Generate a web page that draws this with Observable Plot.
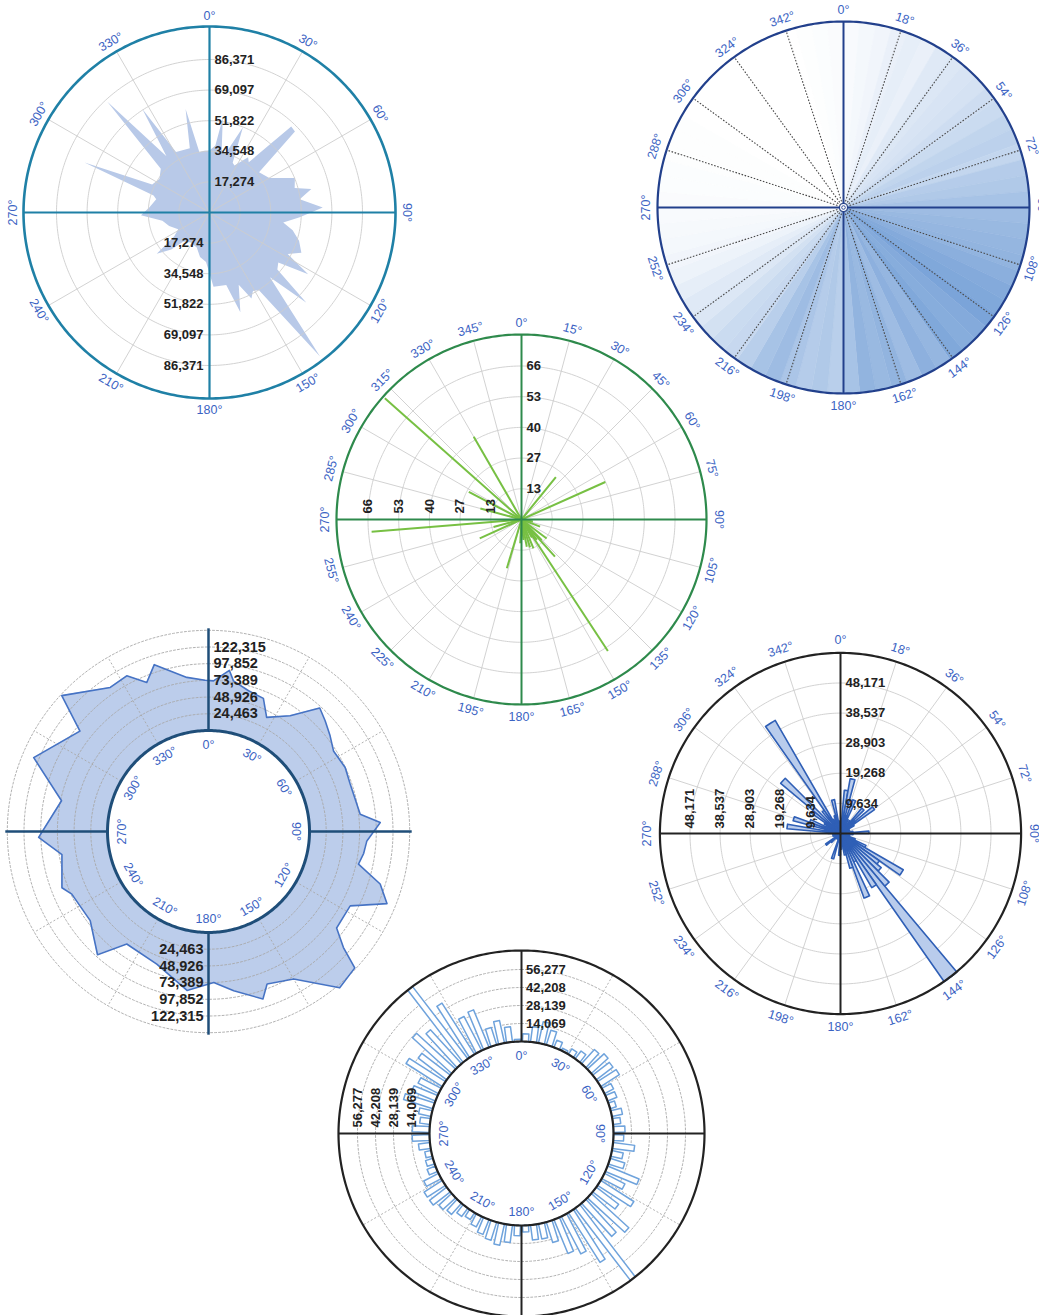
<!DOCTYPE html>
<html>
<head>
<meta charset="utf-8">
<script src="https://cdn.jsdelivr.net/npm/d3@7"></script>
<script src="https://cdn.jsdelivr.net/npm/@observablehq/plot@0.6"></script>
<style>
  body { margin: 0; background: #fff; }
  #page { position: relative; width: 1039px; height: 1315px; overflow: hidden; background: #fff; }
  #page svg { position: absolute; }
</style>
</head>
<body>
<div id="page"></div>
<script>
// ---------- data ----------

// A: filled radial profile (top left) — vertex angles (deg) and values
const profileAngles = [0, 5, 8, 11, 15.5, 21.4, 25, 28, 35, 38, 43.5, 46.5, 51, 60, 68, 74, 77, 81.6, 87.5, 93, 97.8, 102, 107.5, 113.6, 118, 122, 126, 130, 133, 137, 142.5, 147.5, 151, 154, 158, 162.8, 167, 176.9, 184, 192, 200, 212, 222, 226, 232, 236, 242, 251.6, 260, 267.8, 275, 284, 287, 291.8, 296, 303.7, 312, 317.3, 322.6, 327, 331, 343, 347, 350.5, 355];
const profileValues = [35000, 38000, 54000, 36000, 35000, 51700, 31000, 30000, 38000, 36000, 67000, 66500, 36000, 39000, 52000, 50000, 59000, 51500, 64000, 51000, 42000, 48000, 53000, 56600, 50000, 65700, 48000, 50000, 74800, 50000, 102500, 52000, 50600, 54000, 44000, 58900, 42000, 42000, 28000, 25700, 21000, 20000, 22000, 30000, 37800, 24000, 20000, 24000, 27000, 38700, 34000, 31000, 33000, 76000, 36000, 34000, 37000, 85000, 40000, 69600, 39000, 38000, 60000, 34500, 35000];
const profileStep = 17274.15;

// B: shaded direction sectors (top right), 5° bins from 0°
const sectorShade = [
  0.04, 0.06, 0.08, 0.12, 0.14, 0.12, 0.18, 0.20, 0.22, 0.24, 0.28, 0.30,
  0.35, 0.38, 0.34, 0.42, 0.45, 0.50, 0.55, 0.58, 0.60, 0.62, 0.66, 0.70,
  0.72, 0.75, 0.70, 0.68, 0.72, 0.60, 0.65, 0.55, 0.62, 0.58, 0.62, 0.50,
  0.40, 0.45, 0.42, 0.48, 0.55, 0.50, 0.40, 0.32, 0.30, 0.25, 0.20, 0.18,
  0.14, 0.10, 0.08, 0.06, 0.05, 0.04, 0.03, 0.02, 0.02, 0.01, 0.01, 0.01,
  0.0, 0.0, 0.0, 0.0, 0.0, 0.0, 0.0, 0.0, 0.0, 0.01, 0.02, 0.03
];

// C: radial line segments (middle) — direction (deg) and length
const rayAngles = [311.6, 330, 297.6, 285, 265.3, 245.7, 255, 196.7, 183, 174.5, 169, 163, 157.5, 150, 146.7, 143, 138, 135.5, 127, 111, 100, 39, 65.9];
const rayValues = [79, 41.3, 25.7, 18.4, 65, 19.8, 12.5, 22, 10.3, 8.9, 12, 12.6, 13.5, 9, 68, 11, 21.6, 12.5, 13.6, 8.6, 5, 23.6, 39.7];
const rayStep = 13.27;

// D: ring profile with a hollow centre (bottom left) — vertex angles and values
const ringAngles = [1.9, 7.4, 9.4, 15.9, 22.4, 27, 35.2, 42, 46.5, 51.8, 57.2, 64.9, 71.5, 83.5, 87, 93.4, 98, 102.3, 107, 112, 117.7, 127, 130.7, 133, 140, 150, 159, 162, 171, 178, 187.7, 201.3, 216, 222, 233, 245.4, 249, 261, 268, 281.8, 292.9, 308, 312.8, 325.7, 332.3, 337.5, 342, 352, 358.7];
const ringValues = [72800, 90000, 75700, 66400, 63000, 39600, 59500, 95600, 87600, 78700, 69900, 73100, 70900, 75700, 104000, 84400, 81600, 76900, 115000, 134000, 86400, 87000, 112800, 145000, 151000, 101600, 91400, 110000, 88300, 73300, 87000, 60600, 55800, 95000, 69000, 72300, 82000, 69400, 101000, 72000, 130000, 91000, 145000, 107500, 109600, 88300, 109000, 80000, 73700];
const ringStep = 24463;

// E: rose of filled petals (middle right), 5° bins from 0°
const petalValues = [
  4000, 13900, 17800, 6000, 11500, 5000, 3000, 5000, 10600, 6000, 13300, 5000,
  3000, 2500, 3000, 2500, 4000, 9100, 4000, 2000, 3000, 2500, 5000, 9000,
  23200, 15200, 17000, 22000, 57900, 20000, 10000, 22000, 11500, 7000, 4000, 5000,
  7000, 2000, 2500, 8400, 2000, 1500, 2000, 1500, 2000, 4000, 5800, 2000,
  1500, 2000, 2500, 1500, 2000, 2500, 4000, 17200, 5000, 15700, 10500, 5000,
  6000, 11400, 25000, 4000, 9100, 41800, 5000, 4000, 6000, 11000, 4000, 3000
];
const petalStep = 9634.2;

// F: outlined bars around a hollow centre (bottom), 5° bins from 0°
const barValues = [
  6000, 12000, 17000, 12000, 6000, 2000, 5000, 7600, 15000, 17700, 16400, 17300,
  8000, 7800, 5000, 8400, 6000, 9000, 8000, 17000, 9000, 12000, 26600, 18000,
  30700, 22000, 39700, 35000, 71000, 46000, 33000, 28600, 16700, 12000, 11800, 5000,
  8000, 13800, 17000, 14800, 12500, 9200, 6300, 8000, 11700, 13500, 16900, 16900,
  13000, 7000, 6000, 5000, 9000, 13500, 13400, 8000, 10000, 24000, 20000, 18000,
  33600, 28000, 41500, 36000, 71000, 47500, 30000, 31700, 14200, 18000, 11900, 1800
];
const barStep = 14069.3;

// ---------- helpers ----------
const page = document.getElementById("page");
const S = 440, H = S / 2;
const FONT = "Liberation Sans, Arial, Helvetica, sans-serif";
const DEG_COLOR = "#3b63c3";
const toRad = a => a * Math.PI / 180;
const P = (r, a) => ({x: r * Math.sin(toRad(a)), y: r * Math.cos(toRad(a))});
const upright = a => (a > 90 && a < 270) ? a - 180 : a;
const fmt = d3.format(",");
const axes4 = [0, 90, 180, 270];
const gridAngles = step => d3.range(0, 360, step).filter(a => a % 90 !== 0);

function circle(r, id, n = 360) {
  return d3.range(n + 1).map(i => ({...P(r, i * 360 / n), id}));
}
function rings(radii, stroke, strokeWidth, dash) {
  return Plot.line(radii.flatMap((r, i) => circle(r, i)), {x: "x", y: "y", z: "id", stroke, strokeWidth, strokeDasharray: dash});
}
function spokes(angles, r0, r1, stroke, strokeWidth, dash) {
  const segs = angles.map(a => { const p = P(r0, a), q = P(r1, a); return {x1: p.x, y1: p.y, x2: q.x, y2: q.y}; });
  return Plot.link(segs, {x1: "x1", y1: "y1", x2: "x2", y2: "y2", stroke, strokeWidth, strokeDasharray: dash});
}
function degreeLabels(angles, r) {
  const labels = angles.map(a => ({...P(r, a), text: a + "°", rot: upright(a)}));
  return Plot.text(labels, {x: "x", y: "y", text: "text", rotate: "rot", fill: DEG_COLOR, fontSize: 12.5, fontFamily: FONT});
}
const bold = size => ({fill: "#222", fontSize: size, fontWeight: "bold", fontFamily: FONT});
function topLabels(ticks, r, dx, size = 13) {
  return Plot.text(ticks, {x: () => dx, y: d => r(d), text: d => fmt(Math.round(d)), textAnchor: "start", ...bold(size)});
}
function bottomLabels(ticks, r, dx, size = 13) {
  return Plot.text(ticks, {x: () => -dx, y: d => -r(d), text: d => fmt(Math.round(d)), textAnchor: "end", ...bold(size)});
}
function leftLabels(ticks, r, dy, size = 13) {
  return Plot.text(ticks, {x: d => -r(d), y: () => dy, text: d => fmt(Math.round(d)), rotate: -90, textAnchor: "start", ...bold(size)});
}
function chart(cx, cy, marks, extra = {}) {
  const svg = Plot.plot({
    width: S, height: S, margin: 0,
    x: {domain: [-H, H], axis: null},
    y: {domain: [-H, H], axis: null},
    style: {background: "none", overflow: "visible"},
    marks,
    ...extra
  });
  svg.style.left = (cx - H) + "px";
  svg.style.top = (cy - H) + "px";
  page.appendChild(svg);
}
const ticksOf = (step, n) => d3.range(1, n + 1).map(i => i * step);

// ---------- A: filled radial profile ----------
{
  const r = d3.scaleLinear().domain([0, profileStep]).range([0, 30.6]);
  const R = 186, teal = "#1f80a6";
  const ticks = ticksOf(profileStep, 5);
  const poly = profileAngles.map((a, i) => P(r(profileValues[i]), a));
  chart(209.3, 212.3, [
    Plot.line(poly, {x: "x", y: "y", fill: "#b8c9e8", stroke: "none", curve: "linear-closed"}),
    rings(ticks.map(r), "#cdcdcd", 0.9),
    spokes(gridAngles(30), 0, R, "#cdcdcd", 0.9),
    spokes(axes4, 0, R, teal, 2.2),
    rings([R], teal, 2.6),
    degreeLabels(d3.range(0, 360, 30), R + 11),
    topLabels(ticks, r, 5),
    bottomLabels(ticks, r, 6)
  ]);
}

// ---------- B: shaded direction sectors ----------
{
  const R = 186, navy = "#22408c";
  const wedges = sectorShade.flatMap((t, i) => [
    {x: 0, y: 0, id: i, t},
    ...d3.range(0, 6).map(k => ({...P(R, i * 5 + k), id: i, t}))
  ]);
  chart(843.3, 207.3, [
    Plot.line(wedges, {x: "x", y: "y", z: "id", fill: "t", stroke: "t", strokeWidth: 0.6, curve: "linear-closed"}),
    spokes(gridAngles(18), 0, R, "#4a4a4a", 1.1, "1.6,1.6"),
    spokes(axes4, 0, R, navy, 2),
    rings([R], navy, 2.2),
    Plot.dot([0], {x: () => 0, y: () => 0, r: 4, stroke: navy, fill: "white", strokeWidth: 1.1}),
    Plot.dot([0], {x: () => 0, y: () => 0, r: 1.8, stroke: navy, fill: "none", strokeWidth: 0.9}),
    degreeLabels(d3.range(0, 360, 18), R + 12)
  ], {color: {type: "linear", domain: [0, 1], range: ["#ffffff", "#4f86cc"], interpolate: "rgb"}});
}

// ---------- C: radial line segments ----------
{
  const r = d3.scaleLinear().domain([0, rayStep]).range([0, 30.7]);
  const R = 185, green = "#2e8a4c";
  const ticks = ticksOf(rayStep, 5);
  const rays = rayAngles.map((a, i) => P(r(rayValues[i]), a));
  chart(521.3, 519.3, [
    rings(ticks.map(r), "#cdcdcd", 0.9),
    spokes(gridAngles(15), 0, R, "#cdcdcd", 0.9),
    Plot.link(rays, {x1: () => 0, y1: () => 0, x2: "x", y2: "y", stroke: "#77c043", strokeWidth: 2}),
    spokes(axes4, 0, R, green, 2),
    rings([R], green, 2.2),
    degreeLabels(d3.range(0, 360, 15), R + 12),
    topLabels(ticks, r, 5),
    leftLabels(ticks, r, 6)
  ]);
}

// ---------- D: ring profile with hollow centre ----------
{
  const inner = 101;
  const r = d3.scaleLinear().domain([0, ringStep]).range([inner, inner + 16.7]);
  const navy = "#1f4e79";
  const ticks = ticksOf(ringStep, 5);
  const outerR = r(6 * ringStep);
  const band = ringAngles.concat(ringAngles[0] + 360).map((a, i) => {
    const v = ringValues[i % ringValues.length];
    const p = P(inner, a), q = P(r(v), a);
    return {ix: p.x, iy: p.y, ox: q.x, oy: q.y};
  });
  const edge = ringAngles.map((a, i) => P(r(ringValues[i]), a));
  chart(208.3, 830.7, [
    Plot.area(band, {x1: "ix", y1: "iy", x2: "ox", y2: "oy", fill: "#bccdeb"}),
    rings(d3.range(1, 7).map(i => r(i * ringStep)), "#a8a8a8", 0.9, "2,2"),
    spokes(gridAngles(30), inner, outerR, "#a8a8a8", 0.9, "2,2"),
    Plot.line(edge, {x: "x", y: "y", stroke: "#4673c4", strokeWidth: 1.6, curve: "linear-closed"}),
    spokes(axes4, inner, outerR + 2, navy, 2.5),
    rings([inner], navy, 3),
    degreeLabels(d3.range(0, 360, 30), inner - 14),
    topLabels(ticks, r, 5, 14.5),
    bottomLabels(ticks, r, 5, 14.5)
  ]);
}

// ---------- E: rose of filled petals ----------
{
  const r = d3.scaleLinear().domain([0, petalStep]).range([0, 30.1]);
  const R = r(6 * petalStep), ink = "#222";
  const ticks = ticksOf(petalStep, 5);
  const petals = petalValues.flatMap((v, i) => [
    {x: 0, y: 0, id: i},
    ...d3.range(0, 6).map(k => ({...P(r(v), i * 5 + k), id: i}))
  ]);
  chart(840, 833.3, [
    rings(ticks.map(r), "#cdcdcd", 0.9),
    spokes(gridAngles(18), 0, R, "#cdcdcd", 0.9),
    Plot.line(petals, {x: "x", y: "y", z: "id", fill: "#b9ccec", stroke: "#2f5fb6", strokeWidth: 1.6, curve: "linear-closed"}),
    spokes(axes4, 0, R, ink, 2),
    rings([R], ink, 2.2),
    degreeLabels(d3.range(0, 360, 18), R + 13),
    topLabels(ticks, r, 5),
    leftLabels(ticks, r, 5)
  ]);
}

// ---------- F: outlined bars around a hollow centre ----------
{
  const inner = 92;
  const r = d3.scaleLinear().domain([0, barStep]).range([inner, inner + 18]);
  const R = 183, ink = "#222";
  const ticks = ticksOf(barStep, 4);
  const half = 3;
  const bars = barValues.flatMap((v, i) => {
    const t = toRad(i * 5 + 2.5);
    const ux = Math.sin(t), uy = Math.cos(t), nx = Math.cos(t), ny = -Math.sin(t);
    const tip = Math.min(r(v), R);
    return [[inner, -half], [tip, -half], [tip, half], [inner, half]]
      .map(([rr, w]) => ({x: rr * ux + w * nx, y: rr * uy + w * ny, id: i}));
  });
  chart(520.7, 1132.7, [
    rings(ticks.map(r), "#a8a8a8", 0.9, "2,2"),
    spokes(gridAngles(30), inner, R, "#a8a8a8", 0.9, "2,2"),
    Plot.line(bars, {x: "x", y: "y", z: "id", fill: "white", stroke: "#6fa3dc", strokeWidth: 1.5, curve: "linear-closed"}),
    spokes(axes4, inner, R, ink, 2),
    rings([inner], ink, 2.2),
    rings([R], ink, 2.2),
    degreeLabels(d3.range(0, 360, 30), inner - 14),
    topLabels(ticks, r, 4.5),
    leftLabels(ticks, r, 6)
  ]);
}
</script>
</body>
</html>
